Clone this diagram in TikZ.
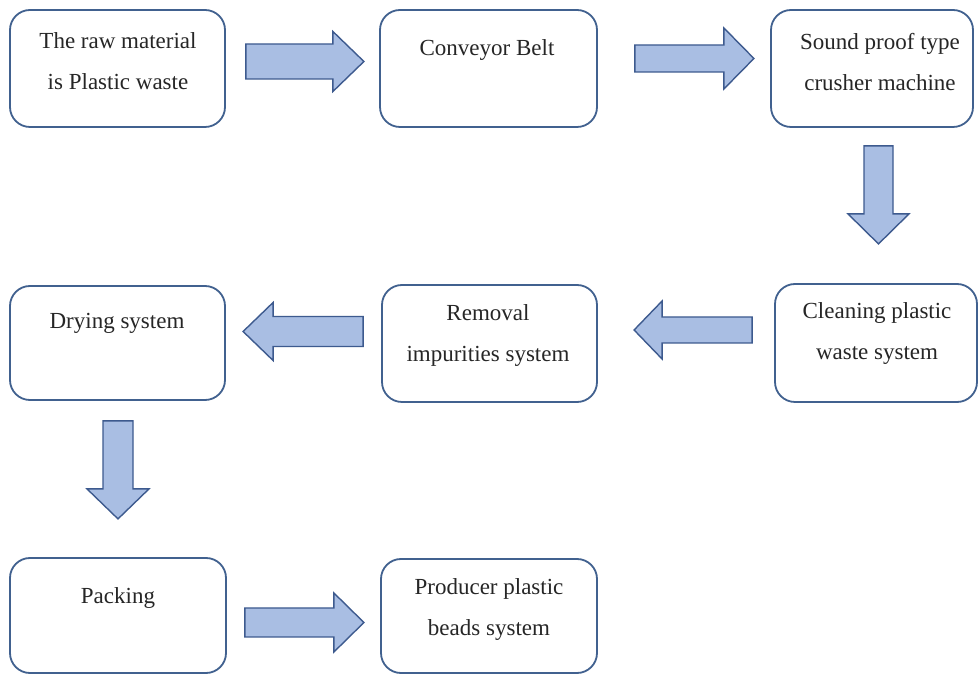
\documentclass[tikz,border=0pt]{standalone}
\usepackage{fontspec}
\setmainfont{Liberation Serif}
\usetikzlibrary{calc}
\definecolor{boxline}{HTML}{41618F}
\definecolor{arrfill}{HTML}{A9BEE3}
\definecolor{arrline}{HTML}{3D5A8E}
\tikzset{
  x=1pt, y=1pt,
  flowbox/.style={draw=boxline, line width=1.8pt, rounded corners=20pt, fill=white, inner sep=0pt},
  flowtext/.style={align=center, font=\fontsize{23}{41}\selectfont, text=black!85, inner sep=0pt},
  barrowstyle/.style={draw=arrline, fill=arrfill, line width=1.4pt, line join=miter},
  pics/barr/.style n args={4}{code={
    \draw[barrowstyle] (0,-#2) -- (#1-#4,-#2) -- (#1-#4,-#3) -- (#1,0) -- (#1-#4,#3) -- (#1-#4,#2) -- (0,#2) -- cycle;
  }}
}
\begin{document}
\begin{tikzpicture}
\useasboundingbox (0,0) rectangle (978,675);
\fill[white] (0,0) rectangle (978,675);
% boxes
\node[flowbox, minimum width=215, minimum height=117] (b1) at (117.5,606.5) {};
\node[flowbox, minimum width=217, minimum height=117] (b2) at (488.5,606.5) {};
\node[flowbox, minimum width=202, minimum height=117] (b3) at (872,606.5) {};
\node[flowbox, minimum width=215, minimum height=114] (b4) at (117.5,332) {};
\node[flowbox, minimum width=215, minimum height=117] (b5) at (489.5,331.5) {};
\node[flowbox, minimum width=202, minimum height=118] (b6) at (876,332) {};
\node[flowbox, minimum width=216, minimum height=115] (b7) at (118,59.5) {};
\node[flowbox, minimum width=216, minimum height=114] (b8) at (489,59) {};
% texts
\node[flowtext] (t1) at (118,614) {The raw material\\is Plastic waste};
\node[flowtext] (t2) at (487,625) {Conveyor Belt};
\node[flowtext] (t3) at (880,613) {Sound proof type\\crusher machine};
\node[flowtext] (t4) at (117,352) {Drying system};
\node[flowtext] (t5) at (488,339) {Removal\\impurities system};
\node[flowtext] (t6) at (877,341) {Cleaning plastic\\waste system};
\node[flowtext] (t7) at (118,77) {Packing};
\node[flowtext] (t8) at (489,65) {Producer plastic\\beads system};
% block arrows
\path (b1.east) ++(20,7) pic {barr={118}{17.5}{30}{31}};
\path (b2.east) ++(37,10) pic {barr={119}{13.5}{30.5}{30}};
\path (b3.south) ++(6.5,-18) pic[rotate=-90] {barr={98}{14.5}{30.5}{30}};
\path (b6.west) ++(-22,13) pic[rotate=180] {barr={118}{13}{29}{28}};
\path (b5.west) ++(-18,12) pic[rotate=180] {barr={120}{15}{29}{30}};
\path (b4.south) ++(0.5,-20) pic[rotate=-90] {barr={98}{15}{31}{30}};
\path (b7.east) ++(18,-7) pic {barr={119}{14.5}{29.5}{30}};
\end{tikzpicture}
\end{document}
